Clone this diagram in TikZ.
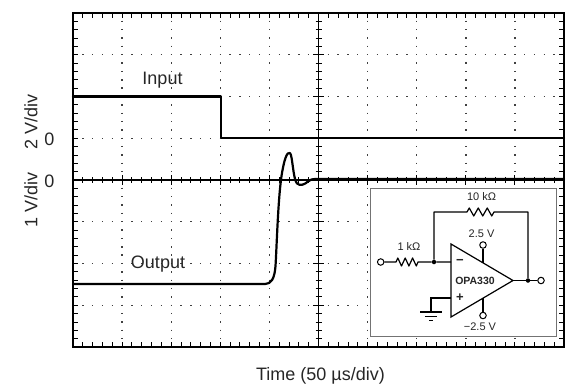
\documentclass[tikz,border=0pt]{standalone}
\usepackage{fontspec}
\setmainfont{Liberation Sans}
\begin{document}
\begin{tikzpicture}[x=1pt,y=-1pt,
  lbl/.style={font=\fontsize{18}{20}\selectfont, text=black!85, inner sep=0pt},
  clbl/.style={font=\fontsize{11}{12}\selectfont, text=black!85, inner sep=0pt},
  trace/.style={line width=2.2pt, line join=round, line cap=round},
  frame/.style={line width=2.4pt},
  axisln/.style={line width=1.2pt},
  tick/.style={line width=0.9pt},
  hdots/.style={line width=1.4pt, dash pattern=on 1.4pt off 8.42pt, dash phase=0.7pt, black!75},
  vdots/.style={line width=1.4pt, dash pattern=on 1.4pt off 6.95pt, dash phase=0.7pt, black!75},
  wire/.style={line width=1.2pt},
  term/.style={circle, draw, line width=1pt, fill=white, minimum size=6.5pt, inner sep=0pt},
  jdot/.style={circle, fill, minimum size=4.5pt, inner sep=0pt}
]
\useasboundingbox (0,0) rectangle (567,383);

% dotted grid
\foreach \k in {1,2,3,4,6,7,8,9}
  \draw[vdots] ({73+\k*49.1},13) -- ({73+\k*49.1},347);
\foreach \k in {1,2,3,5,6,7}
  \draw[hdots] (73,{13+\k*41.75}) -- (564,{13+\k*41.75});

% frame ticks
\foreach \k in {1,...,49} {
  \draw[tick] ({73+\k*9.82},13) -- ++(0,5);
  \draw[tick] ({73+\k*9.82},347) -- ++(0,-5);
}
\foreach \k in {1,...,39} {
  \draw[tick] (73,{13+\k*8.35}) -- ++(5,0);
  \draw[tick] (564,{13+\k*8.35}) -- ++(-5,0);
}

% centre axes
\draw[axisln] (73,180) -- (564,180);
\draw[axisln] (318.5,13) -- (318.5,347);
\foreach \k in {1,...,49} {
  \pgfmathsetmacro\len{mod(\k,5)==0 ? 5 : 3}
  \draw[tick] ({73+\k*9.82},{180-\len}) -- ++(0,{2*\len});
}
\foreach \k in {1,...,39} {
  \pgfmathsetmacro\len{mod(\k,5)==0 ? 5.5 : 3}
  \draw[tick] ({318.5-\len},{13+\k*8.35}) -- ++({2*\len},0);
}

% traces
\draw[trace] (73,96.5) -- (221,96.5) -- (221,138.25) -- (564,138.25);
\draw[trace] (73,284) -- (265,284)
  .. controls (271,284) and (274.5,279) .. (275.5,266)
  .. controls (276.8,245) and (278,200) .. (281.5,176)
  .. controls (284,160) and (287,151) .. (290,153)
  .. controls (292.5,155) and (293,179) .. (297,183.5)
  .. controls (300,186) and (304,185) .. (308,181.5)
  .. controls (310,179.8) and (312,179) .. (316,179)
  -- (564,179);

% frame
\draw[frame] (73,13) rectangle (564,347);

% labels
\node[lbl, anchor=base] (inlbl) at (162.5,84.7) {Input};
\node[lbl, anchor=base] (outlbl) at (158,268.7) {Output};
\node[lbl, anchor=base] (tlbl) at (320.5,380.5) {Time (50 µs/div)};
\node[lbl, rotate=90] (ylbl2) at (31,122) {2 V/div};
\node[lbl, rotate=90] (ylbl1) at (31,200) {1 V/div};
\node[lbl] (zero2) at (49.5,139.5) {0};
\node[lbl] (zero1) at (49.5,181) {0};

% inset
\draw[fill=white, draw=black!55, line width=0.8pt] (370,188) rectangle (556,336);

% circuit
\node[term] (vin) at (380.7,262) {};
\coordinate (r1a) at (396,262);
\coordinate (r1b) at (418,262);
\node[jdot] (j1) at (434,262) {};
\coordinate (oaT) at (451,244);
\coordinate (oaB) at (451,317);
\coordinate (oaTip) at (513,280.5);
\coordinate (inm) at (451,262);
\coordinate (inp) at (451,298);
\coordinate (r2a) at (467,212);
\coordinate (r2b) at (494,212);
\node[jdot] (jo) at (528,280.5) {};
\node[term] (vout) at (541,280.5) {};
\coordinate (gnd) at (431,312);
\coordinate (tpin) at (483,262.84);
\coordinate (bpin) at (483,298.16);
\node[term] (vpos) at (483,245) {};
\node[term] (vneg) at (483,315.5) {};

\draw[wire, line join=miter] (oaT) -- (oaTip) -- (oaB) -- cycle;
\draw[wire, line join=round] (vin) -- (r1a) -- ++(1.8,-4) -- ++(3.7,8) -- ++(3.7,-8) -- ++(3.7,8) -- ++(3.7,-8) -- ++(3.7,8) -- (r1b) -- (j1) -- (inm);
\draw[wire, line join=round] (j1) |- (r2a) -- ++(2.25,-4) -- ++(4.5,8) -- ++(4.5,-8) -- ++(4.5,8) -- ++(4.5,-8) -- ++(4.5,8) -- (r2b) -| (jo);
\draw[wire] (oaTip) -- (jo) -- (vout);
\draw[wire] (inp) -| (gnd);
\draw[wire] ([xshift=-11pt]gnd) -- ([xshift=11pt]gnd);
\draw[wire] ([xshift=-6.2pt,yshift=-4.3pt]gnd) -- ([xshift=6.2pt,yshift=-4.3pt]gnd);
\draw[wire] ([xshift=-2pt,yshift=-8.6pt]gnd) -- ([xshift=2pt,yshift=-8.6pt]gnd);
\draw[wire] (tpin) -- (vpos);
\draw[wire] (bpin) -- (vneg);

\node[clbl] (r1lbl) at (409,246.7) {1 kΩ};
\node[clbl] (r2lbl) at (481.5,196.7) {10 kΩ};
\node[clbl] (vplbl) at (481.5,233.5) {2.5 V};
\node[clbl] (vnlbl) at (480,326.5) {−2.5 V};
\node[clbl, font=\fontsize{10.5}{12}\selectfont\bfseries] (oalbl) at (475,280.5) {OPA330};
\node[clbl, font=\fontsize{13}{14}\selectfont\bfseries] (mlbl) at (460,261.5) {−};
\node[clbl, font=\fontsize{13}{14}\selectfont\bfseries] (plbl) at (460,297.5) {+};
\end{tikzpicture}
\end{document}
